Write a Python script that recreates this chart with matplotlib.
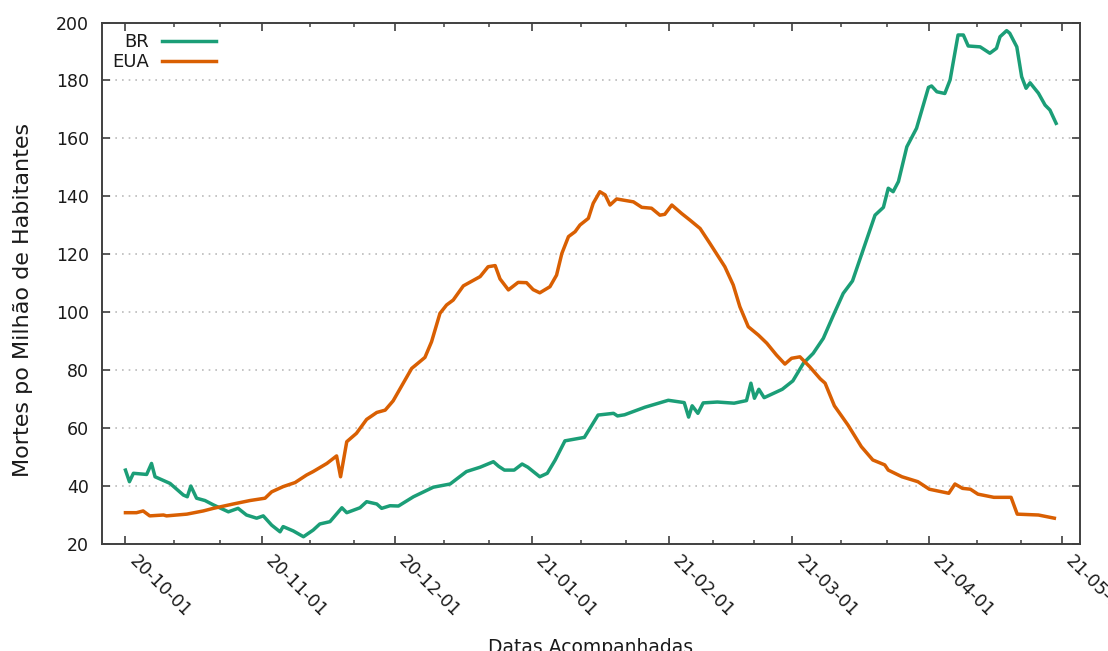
"""
Mortes diárias por milhão de habitantes - Brasil x EUA
Curvas de média móvel entre outubro/2020 e abril/2021.
"""

import numpy as np
import pandas as pd
import matplotlib
matplotlib.use("Agg")
import matplotlib.pyplot as plt
import matplotlib.dates as mdates

START = pd.Timestamp("2020-10-01")

# dias desde START e mortes por milhão
br_days = [0, 0.9, 1.8, 4.8, 5.9, 6.7, 10.1, 13.1, 14.0, 14.8, 16.1, 18.0,
           19.9, 23.3, 25.5, 27.4, 29.7, 31.2, 33.1, 35.0, 35.7, 38.0, 40.3,
           42.5, 44.0, 46.3, 49.0, 50.1, 53.1, 54.6, 56.9, 58.0, 59.9, 61.8,
           65.2, 69.7, 73.5, 77.2, 80.3, 83.3, 84.5, 85.8, 88.0, 89.8, 91.1,
           93.8, 95.5, 97.3, 99.5, 103.9, 107.0, 110.5, 111.4, 113.0, 117.6,
           122.9, 126.5, 127.5, 128.3, 129.6, 130.8, 134.0, 137.8, 140.6,
           141.6, 142.4, 143.4, 144.6, 148.7, 151.1, 153.5, 155.7, 158.0,
           160.2, 162.5, 164.6, 166.6, 169.7, 171.6, 172.7, 173.8, 175.0,
           176.9, 179.1, 181.8, 182.5, 183.7, 185.5, 186.7, 188.5, 189.7,
           190.8, 193.5, 195.7, 197.2, 198.0, 199.5, 200.2, 201.8, 202.9,
           203.9, 204.8, 206.7, 208.2, 209.3, 210.7]
br_vals = [45.5, 41.5, 44.4, 44.0, 47.8, 43.2, 40.9, 36.9, 36.3, 40.0, 35.8,
           35.0, 33.5, 31.1, 32.3, 30.0, 28.9, 29.7, 26.5, 24.2, 26.0, 24.5,
           22.5, 24.8, 26.9, 27.7, 32.5, 30.8, 32.5, 34.6, 33.8, 32.3, 33.2,
           33.1, 36.3, 39.6, 40.7, 45.0, 46.5, 48.4, 46.8, 45.5, 45.5, 47.6,
           46.5, 43.2, 44.4, 49.0, 55.6, 56.8, 64.5, 65.1, 64.2, 64.6, 67.2,
           69.6, 68.8, 63.8, 67.7, 65.1, 68.7, 69.0, 68.6, 69.5, 75.5, 70.3,
           73.4, 70.5, 73.4, 76.3, 82.4, 85.8, 91.0, 98.7, 106.5, 110.8,
           119.7, 133.5, 136.2, 142.8, 141.6, 145.1, 157.1, 163.5, 177.6,
           178.1, 176.1, 175.5, 180.2, 195.7, 195.7, 191.9, 191.6, 189.4,
           191.1, 195.1, 197.2, 196.3, 191.6, 181.3, 177.3, 179.2, 175.6,
           171.5, 169.8, 165.2]

eua_days = [0, 2.5, 4.0, 5.5, 8.6, 9.3, 13.9, 17.6, 19.9, 24.4, 28.2, 31.6,
            33.1, 35.7, 38.4, 41.0, 42.5, 45.6, 47.8, 48.7, 50.1, 52.3, 54.6,
            56.9, 58.8, 60.6, 64.8, 67.8, 69.3, 71.2, 72.7, 74.2, 76.5, 80.3,
            82.1, 83.7, 84.8, 86.7, 88.9, 90.8, 92.3, 93.8, 96.1, 97.6, 98.8,
            100.3, 101.8, 102.9, 104.8, 105.9, 107.4, 108.6, 109.7, 111.2,
            112.7, 115.0, 116.9, 119.1, 121.0, 122.1, 123.7, 125.9, 127.8,
            130.1, 132.3, 135.7, 137.6, 139.1, 141.0, 143.3, 145.2, 147.4,
            149.3, 150.8, 152.7, 154.9, 157.3, 158.4, 160.5, 163.6, 166.6,
            169.2, 171.9, 172.7, 175.8, 179.4, 182.0, 186.4, 187.8, 189.5,
            191.3, 193.0, 196.6, 200.5, 201.9, 206.7, 210.3]
eua_vals = [30.8, 30.8, 31.4, 29.7, 30.0, 29.7, 30.3, 31.4, 32.3, 33.8, 35.0,
            35.8, 38.0, 39.8, 41.2, 43.8, 45.0, 47.8, 50.4, 43.2, 55.3, 58.2,
            63.0, 65.4, 66.2, 69.4, 80.6, 84.4, 89.8, 99.6, 102.5, 104.2,
            109.1, 112.3, 115.7, 116.1, 111.5, 107.7, 110.3, 110.2, 107.8,
            106.7, 108.8, 112.8, 120.3, 126.1, 127.8, 130.1, 132.4, 137.6,
            141.6, 140.5, 137.0, 139.1, 138.7, 138.1, 136.2, 135.9, 133.5,
            133.8, 137.0, 134.1, 131.8, 128.9, 123.8, 115.7, 109.4, 101.9,
            95.0, 92.1, 89.3, 85.2, 82.1, 84.1, 84.6, 81.2, 77.0, 75.5, 67.7,
            61.0, 53.6, 49.0, 47.3, 45.5, 43.2, 41.5, 38.9, 37.5, 40.7, 39.2,
            38.9, 37.2, 36.1, 36.1, 30.3, 30.0, 28.9]

y_ticks = [20, 40, 60, 80, 100, 120, 140, 160, 180, 200]
x_range = (-5.3, 216.1)   # dias em relação a START

BR_COLOR = "#1b9e77"
EUA_COLOR = "#d95f02"
AXIS_COLOR = "#404040"
TEXT_COLOR = "#1a1a1a"


def to_dates(days):
    return (START + pd.to_timedelta(np.asarray(days) * 24, unit="h")).to_numpy()


def month_thirds(lo, hi):
    """Minor ticks: each month split in three."""
    starts = pd.date_range(lo - pd.offsets.MonthBegin(1),
                           hi + pd.offsets.MonthBegin(1), freq="MS")
    nums = mdates.date2num(starts.to_pydatetime())
    out = []
    for a, b in zip(nums[:-1], nums[1:]):
        out += [a + (b - a) / 3, a + 2 * (b - a) / 3]
    return out


def plot():
    fig = plt.figure(figsize=(11.08, 6.51), dpi=100)
    ax = fig.add_axes([0.0921, 0.1644, 0.8826, 0.801])

    ax.plot(to_dates(br_days), br_vals, color=BR_COLOR, lw=2.5, label="BR")
    ax.plot(to_dates(eua_days), eua_vals, color=EUA_COLOR, lw=2.5, label="EUA")

    lo, hi = to_dates(x_range)
    ax.set_xlim(lo, hi)
    ax.set_ylim(y_ticks[0], y_ticks[-1])
    ax.set_yticks(y_ticks)

    ax.xaxis.set_major_locator(mdates.MonthLocator())
    ax.xaxis.set_major_formatter(mdates.DateFormatter("%y-%m-%d"))
    ax.xaxis.set_minor_locator(
        matplotlib.ticker.FixedLocator(month_thirds(pd.Timestamp(lo), pd.Timestamp(hi))))

    for sp in ax.spines.values():
        sp.set_color(AXIS_COLOR)
        sp.set_linewidth(1.4)

    ax.tick_params(which="both", direction="in", top=True, right=True,
                   color=AXIS_COLOR, labelcolor=TEXT_COLOR, labelsize=12.5)
    ax.tick_params(which="major", length=6, width=1.2)
    ax.tick_params(which="minor", length=3, width=1.1)
    ax.tick_params(axis="y", pad=9.4)
    ax.tick_params(axis="x", pad=5.5)
    plt.setp(ax.get_xticklabels(), rotation=-45, ha="left")

    ax.yaxis.grid(True, linestyle=(0, (1, 3)), color="#bbbbbb", lw=1.2)
    ax.set_axisbelow(True)

    ax.set_ylabel("Mortes po Milhão de Habitantes", fontsize=16,
                  color=TEXT_COLOR)
    ax.yaxis.set_label_coords(-0.0706, 0.468)
    ax.set_xlabel("Datas Acompanhadas", fontsize=13.5, color=TEXT_COLOR)
    ax.xaxis.set_label_coords(0.5, -0.180)

    ax.legend(loc="upper left", bbox_to_anchor=(0.010, 0.979), frameon=False,
              markerfirst=False, fontsize=13, handlelength=3.0,
              handletextpad=0.75, labelspacing=0.08, borderpad=0,
              borderaxespad=0, labelcolor=TEXT_COLOR)

    fig.savefig("out.png", dpi=100)
    plt.close(fig)


if __name__ == "__main__":
    plot()
